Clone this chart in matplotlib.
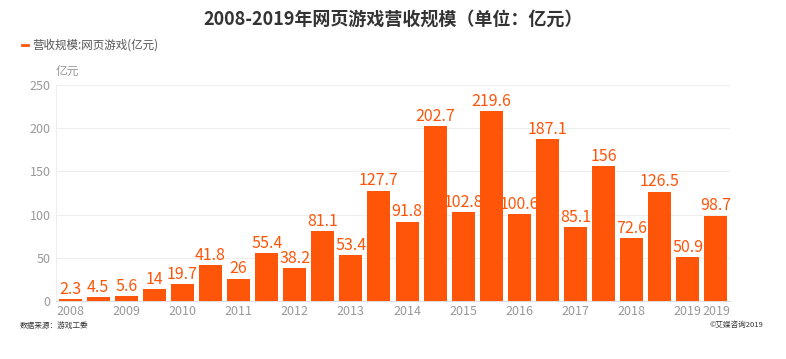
import matplotlib.pyplot as plt

plt.rcParams['font.family'] = ['Noto Sans CJK SC', 'DejaVu Sans']

# -----------------------------
# Data
# -----------------------------
values = [2.3, 4.5, 5.6, 14, 19.7, 41.8, 26, 55.4, 38.2, 81.1, 53.4, 127.7,
          91.8, 202.7, 102.8, 219.6, 100.6, 187.1, 85.1, 156, 72.6, 126.5,
          50.9, 98.7]
tick_labels = ['2008', '', '2009', '', '2010', '', '2011', '', '2012', '',
               '2013', '', '2014', '', '2015', '', '2016', '', '2017', '',
               '2018', '', '2019', '2019']
y_ticks = [0, 50, 100, 150, 200, 250]

orange = '#fe5509'
gray = '#999999'

fig = plt.figure(figsize=(7.86, 3.59), dpi=100)
ax = fig.add_axes([56 / 786, 1 - 301 / 359, (730 - 56) / 786, (301 - 85) / 359])

x = list(range(len(values)))
ax.bar(x, values, width=0.82, color=orange, zorder=3)

for xi, v in zip(x, values):
    ax.text(xi, v + 1.5, f"{v:g}", ha='center', va='bottom', color=orange,
            fontsize=11.5)

ax.set_xlim(-0.5, len(values) - 0.5)
ax.set_ylim(0, 250)
ax.set_yticks(y_ticks)
ax.set_xticks(x)
ax.set_xticklabels(tick_labels)
ax.tick_params(axis='both', colors=gray, labelsize=9, length=0)
ax.tick_params(axis='x', pad=3)
ax.tick_params(axis='y', pad=4)
ax.grid(axis='y', color='#eeeeee', linewidth=0.8, zorder=0)

for side in ['top', 'right']:
    ax.spines[side].set_visible(False)
ax.spines['left'].set_color('#eeeeee')
ax.spines['bottom'].set_color('#dddddd')

# -----------------------------
# Texts
# -----------------------------
fig.text(0.5, 1 - 19 / 359, "2008-2019年网页游戏营收规模（单位：亿元）",
         ha='center', va='center', fontsize=13, fontweight='bold',
         color='#333333')

fig.add_artist(plt.Line2D([22 / 786, 28 / 786], [1 - 45 / 359, 1 - 45 / 359],
                          color=orange, linewidth=2))
fig.text(32 / 786, 1 - 45 / 359, "营收规模:网页游戏(亿元)", ha='left',
         va='center', fontsize=8.3, color='#555555')

fig.text(56 / 786, 1 - 71 / 359, "亿元", ha='left', va='center', fontsize=8.5,
         color=gray)

fig.text(20 / 786, 1 - 326 / 359, "数据来源：游戏工委", ha='left', va='center',
         fontsize=5.5, color='#333333')
fig.text(763 / 786, 1 - 325 / 359, "©艾媒咨询2019", ha='right', va='center',
         fontsize=5.5, color='#333333')

fig.savefig('out.png', dpi=100)
